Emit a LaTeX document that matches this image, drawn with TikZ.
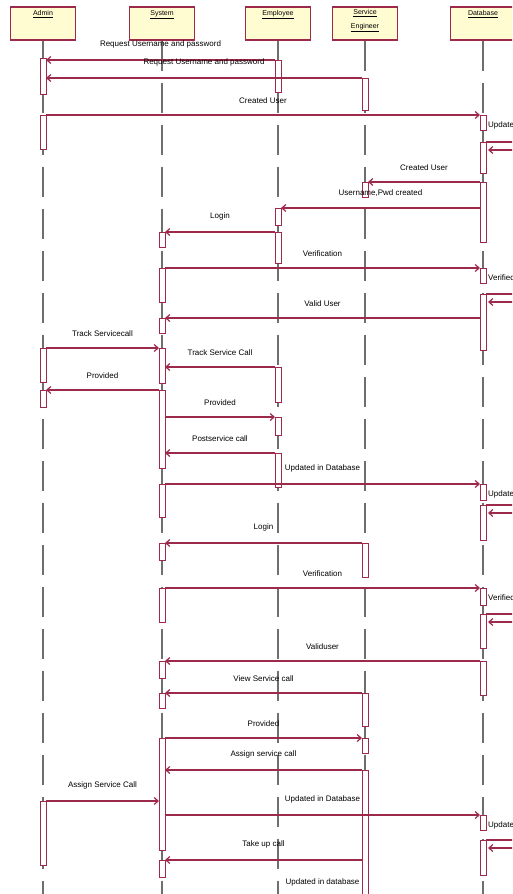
\documentclass[tikz,border=0pt]{standalone}
\usepackage{fontspec}
\setmainfont{Liberation Sans}
\usetikzlibrary{calc,arrows.meta}
\definecolor{umlred}{HTML}{9E2A4B}
\definecolor{umlfill}{HTML}{FFFCD2}
\definecolor{lifegray}{HTML}{6E6E6E}
\tikzset{
  head/.style={draw=umlred,fill=umlfill,line width=1.2pt,minimum width=65pt,minimum height=33pt},
  headtxt/.style={font=\fontsize{7}{14}\selectfont,align=center,inner sep=0pt,anchor=north},
  life/.style={lifegray,line width=1.1pt,dash pattern=on 30pt off 12pt},
  bar/.style={draw=umlred,fill=white,line width=0.8pt},
  msg/.style={umlred,line width=1.2pt,-{Straight Barb[length=4pt,width=7pt]}},
  lbl/.style={font=\fontsize{8}{9}\selectfont,black,inner sep=1pt}
}
\begin{document}
\begin{tikzpicture}[x=1pt,y=-1pt]
\useasboundingbox (0,0) rectangle (512,894);
\clip (0,0) rectangle (512,894);
% objects
\node[head] (admin) at (43,23.5) {};
\node[head] (sys) at (162,23.5) {};
\node[head] (emp) at (278,23.5) {};
\node[head] (eng) at (365,23.5) {};
\node[head] (db) at (483,23.5) {};
\node[headtxt] (admint) at ([yshift=-4pt]admin.north) {\underline{Admin}};
\node[headtxt] (syst) at ([yshift=-4pt]sys.north) {\underline{System}};
\node[headtxt] (empt) at ([yshift=-4pt]emp.north) {\underline{Employee}};
\node[headtxt] (engt) at ([yshift=-3pt]eng.north) {\underline{Service}\\\underline{Engineer}};
\node[headtxt] (dbt) at ([yshift=-4pt]db.north) {\underline{Database}};
% lifelines
\foreach \n in {admin,sys,emp,eng,db}
  \draw[life] (\n.south) -- (\n |- 0,900);
% activations
\foreach \n/\a/\b in {admin/58/94, admin/115/149, admin/348/382, admin/390/407, admin/801/865,
    sys/232/247, sys/268/302, sys/318/333, sys/348/383, sys/390/468, sys/484/517,
    sys/543/560, sys/588/622, sys/661/678, sys/693/708, sys/738/850, sys/860/877,
    emp/60/92, emp/208/225, emp/232/263, emp/367/402, emp/417/435, emp/453/487,
    eng/78/110, eng/182/197, eng/543/577, eng/693/726, eng/738/753, eng/770/900,
    db/115/130, db/142/173, db/182/242, db/268/283, db/294/350, db/484/500,
    db/505/540, db/588/605, db/614/648, db/661/695, db/815/830, db/840/875}
  \draw[bar] ([xshift=-3pt]\n |- 0,\a) rectangle ([xshift=3pt]\n |- 0,\b);
% messages
\foreach \f/\t/\y/\txt in {emp/admin/60/{Request Username and password},
    eng/admin/78/{Request Username and password},
    admin/db/115/{Created User}, db/eng/182/{Created User},
    db/emp/208/{Username,Pwd created}, emp/sys/232/{Login},
    sys/db/268/{Verification}, db/sys/318/{Valid User},
    admin/sys/348/{Track Servicecall}, emp/sys/367/{Track Service Call},
    sys/admin/390/{Provided}, sys/emp/417/{Provided},
    emp/sys/453/{Postservice call}, sys/db/484/{Updated in Database},
    eng/sys/543/{Login}, sys/db/588/{Verification},
    db/sys/661/{Validuser}, eng/sys/693/{View Service call},
    sys/eng/738/{Provided}, eng/sys/770/{Assign service call},
    admin/sys/801/{Assign Service Call}, sys/db/815/{Updated in Database},
    eng/sys/860/{Take up call}, sys/db/898/{Updated in database}}
  \draw[msg] ($(\f |- 0,\y)!3pt!(\t |- 0,\y)$) -- ($(\t |- 0,\y)!3pt!(\f |- 0,\y)$)
    node[midway,above=10pt,lbl] {\txt};
% self calls on database
\foreach \a/\b/\txt in {115/142/Updated, 268/294/Verified, 484/505/Updated,
    588/614/Verified, 815/840/Updated}
{
  \node[lbl,anchor=west] (self\a) at ([xshift=4pt]db |- 0,\a+10) {\txt};
  \draw[umlred,line width=1.2pt] ([xshift=3pt]db |- 0,\b) -- ([xshift=50pt]db |- 0,\b);
  \draw[msg] ([xshift=50pt]db |- 0,\b+8) -- ([xshift=5pt]db |- 0,\b+8);
}
\end{tikzpicture}
\end{document}
